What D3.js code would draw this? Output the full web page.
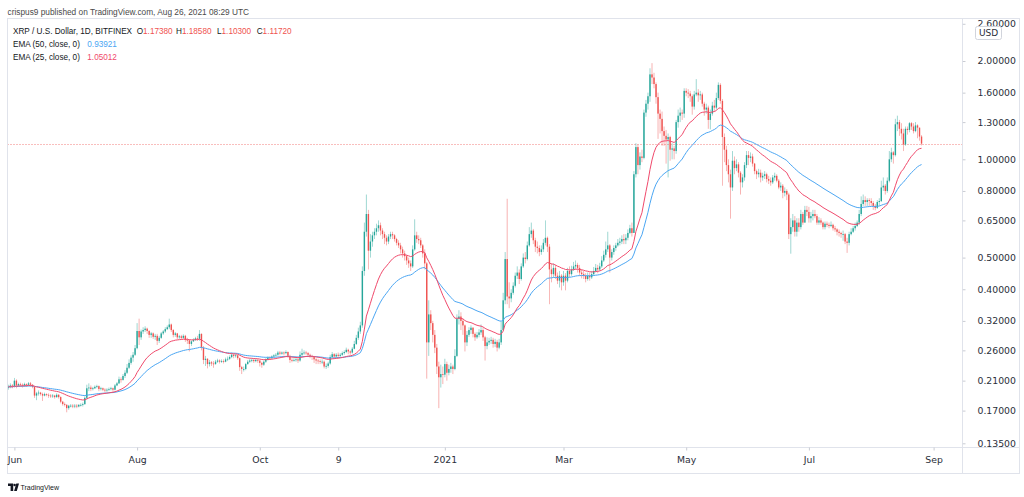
<!DOCTYPE html>
<html>
<head>
<meta charset="utf-8">
<script src="https://cdn.jsdelivr.net/npm/d3@7"></script>
<style>
  body { margin: 0; background: #fff; }
  svg { display: block; font-family: "Liberation Sans", Arial, sans-serif; }
</style>
</head>
<body>
<svg width="1024" height="497"></svg>
<script>
// daily XRP/USD candles (Bitfinex), one row per month; open = previous close
let monthStarts = ["2020-05-29", "2020-06-01", "2020-07-01", "2020-08-01", "2020-09-01", "2020-10-01",
  "2020-11-01", "2020-12-01", "2021-01-01", "2021-02-01", "2021-03-01", "2021-04-01", "2021-05-01",
  "2021-06-01", "2021-07-01", "2021-08-01"];
let firstOpen = 0.2005;

let closes = [
  [0.201, 0.203, 0.202],
  [0.210, 0.203, 0.205, 0.204, 0.203, 0.205, 0.204, 0.206, 0.204, 0.201, 0.189, 0.192, 0.193, 0.191, 0.189, 0.191, 0.190, 0.189, 0.188, 0.189, 0.187, 0.190, 0.187, 0.181, 0.178, 0.177, 0.173, 0.176, 0.176, 0.175],
  [0.176, 0.175, 0.177, 0.177, 0.178, 0.186, 0.199, 0.200, 0.198, 0.199, 0.201, 0.202, 0.198, 0.199, 0.197, 0.196, 0.197, 0.198, 0.199, 0.197, 0.203, 0.206, 0.212, 0.211, 0.217, 0.222, 0.230, 0.238, 0.247, 0.252, 0.264],
  [0.298, 0.285, 0.297, 0.300, 0.303, 0.298, 0.290, 0.293, 0.286, 0.288, 0.278, 0.284, 0.293, 0.297, 0.302, 0.306, 0.312, 0.300, 0.290, 0.293, 0.285, 0.287, 0.284, 0.288, 0.280, 0.279, 0.272, 0.277, 0.280, 0.283, 0.282],
  [0.292, 0.265, 0.243, 0.245, 0.236, 0.239, 0.237, 0.236, 0.240, 0.242, 0.240, 0.241, 0.240, 0.244, 0.245, 0.248, 0.252, 0.250, 0.251, 0.246, 0.231, 0.228, 0.228, 0.236, 0.240, 0.242, 0.243, 0.241, 0.243, 0.242],
  [0.238, 0.235, 0.240, 0.244, 0.247, 0.246, 0.249, 0.251, 0.252, 0.256, 0.254, 0.256, 0.255, 0.257, 0.250, 0.243, 0.242, 0.243, 0.244, 0.242, 0.252, 0.255, 0.256, 0.255, 0.252, 0.250, 0.248, 0.244, 0.242, 0.241, 0.240],
  [0.240, 0.232, 0.233, 0.237, 0.248, 0.253, 0.249, 0.252, 0.250, 0.252, 0.255, 0.257, 0.261, 0.258, 0.256, 0.263, 0.272, 0.284, 0.297, 0.310, 0.455, 0.600, 0.680, 0.525, 0.560, 0.585, 0.600, 0.615, 0.628, 0.605],
  [0.590, 0.575, 0.560, 0.580, 0.590, 0.585, 0.570, 0.555, 0.545, 0.530, 0.515, 0.505, 0.490, 0.480, 0.470, 0.530, 0.585, 0.570, 0.565, 0.545, 0.515, 0.480, 0.275, 0.335, 0.315, 0.290, 0.265, 0.232, 0.215, 0.220, 0.219],
  [0.236, 0.222, 0.228, 0.232, 0.228, 0.250, 0.325, 0.330, 0.320, 0.310, 0.275, 0.290, 0.300, 0.305, 0.292, 0.285, 0.290, 0.295, 0.300, 0.285, 0.268, 0.275, 0.278, 0.280, 0.272, 0.276, 0.265, 0.275, 0.300, 0.370, 0.495],
  [0.380, 0.375, 0.390, 0.410, 0.440, 0.450, 0.430, 0.470, 0.500, 0.495, 0.545, 0.590, 0.605, 0.565, 0.540, 0.535, 0.520, 0.530, 0.555, 0.575, 0.540, 0.460, 0.445, 0.465, 0.440, 0.425, 0.440, 0.420],
  [0.440, 0.425, 0.455, 0.445, 0.460, 0.470, 0.475, 0.465, 0.450, 0.445, 0.440, 0.430, 0.440, 0.435, 0.445, 0.455, 0.465, 0.460, 0.470, 0.490, 0.510, 0.530, 0.545, 0.500, 0.520, 0.535, 0.545, 0.555, 0.560, 0.570, 0.565],
  [0.575, 0.595, 0.615, 0.595, 0.900, 1.090, 0.960, 1.020, 1.010, 1.390, 1.480, 1.560, 1.820, 1.780, 1.700, 1.550, 1.380, 1.330, 1.220, 1.180, 1.150, 1.170, 1.070, 1.080, 1.060, 1.300, 1.360, 1.390, 1.380, 1.620],
  [1.600, 1.590, 1.560, 1.450, 1.580, 1.600, 1.570, 1.580, 1.480, 1.420, 1.440, 1.320, 1.380, 1.460, 1.440, 1.540, 1.690, 1.510, 1.170, 1.070, 0.960, 0.900, 0.820, 0.990, 0.940, 0.965, 0.910, 0.850, 0.880, 0.960, 1.030],
  [1.010, 1.020, 0.970, 0.920, 0.900, 0.910, 0.880, 0.890, 0.900, 0.870, 0.860, 0.850, 0.880, 0.890, 0.860, 0.820, 0.830, 0.790, 0.800, 0.780, 0.590, 0.620, 0.650, 0.600, 0.640, 0.620, 0.680, 0.640, 0.700, 0.690],
  [0.660, 0.670, 0.680, 0.670, 0.640, 0.650, 0.640, 0.620, 0.635, 0.630, 0.625, 0.630, 0.615, 0.610, 0.600, 0.595, 0.590, 0.590, 0.560, 0.555, 0.590, 0.600, 0.615, 0.625, 0.640, 0.680, 0.730, 0.750, 0.740, 0.750, 0.745],
  [0.735, 0.720, 0.710, 0.740, 0.745, 0.820, 0.830, 0.800, 0.860, 1.000, 1.050, 1.030, 1.280, 1.300, 1.240, 1.200, 1.110, 1.240, 1.230, 1.290, 1.260, 1.220, 1.270, 1.250, 1.174, 1.117]
];

let highs = [
  [0.204, 0.206, 0.205],
  [0.214, 0.212, 0.207, 0.207, 0.206, 0.207, 0.206, 0.208, 0.208, 0.205, 0.202, 0.194, 0.196, 0.194, 0.193, 0.193, 0.192, 0.192, 0.191, 0.191, 0.190, 0.192, 0.191, 0.188, 0.182, 0.180, 0.178, 0.177, 0.178, 0.178],
  [0.178, 0.178, 0.178, 0.179, 0.180, 0.188, 0.204, 0.206, 0.203, 0.201, 0.203, 0.204, 0.203, 0.201, 0.200, 0.199, 0.199, 0.200, 0.201, 0.200, 0.205, 0.208, 0.216, 0.215, 0.220, 0.226, 0.236, 0.244, 0.251, 0.257, 0.270],
  [0.315, 0.325, 0.301, 0.306, 0.308, 0.305, 0.300, 0.296, 0.295, 0.292, 0.292, 0.288, 0.296, 0.300, 0.306, 0.310, 0.325, 0.314, 0.302, 0.296, 0.294, 0.290, 0.290, 0.291, 0.290, 0.284, 0.281, 0.279, 0.283, 0.286, 0.288],
  [0.300, 0.293, 0.268, 0.250, 0.246, 0.243, 0.241, 0.241, 0.243, 0.245, 0.244, 0.244, 0.244, 0.247, 0.249, 0.251, 0.256, 0.254, 0.254, 0.252, 0.247, 0.233, 0.232, 0.238, 0.243, 0.245, 0.246, 0.245, 0.246, 0.245],
  [0.243, 0.240, 0.242, 0.246, 0.249, 0.249, 0.251, 0.253, 0.255, 0.259, 0.259, 0.258, 0.258, 0.260, 0.258, 0.252, 0.246, 0.246, 0.247, 0.246, 0.258, 0.263, 0.260, 0.259, 0.257, 0.254, 0.252, 0.250, 0.246, 0.245, 0.244],
  [0.244, 0.242, 0.237, 0.240, 0.252, 0.257, 0.255, 0.255, 0.256, 0.255, 0.258, 0.260, 0.265, 0.263, 0.260, 0.266, 0.278, 0.290, 0.305, 0.318, 0.470, 0.640, 0.780, 0.700, 0.590, 0.600, 0.615, 0.635, 0.650, 0.640],
  [0.615, 0.600, 0.585, 0.590, 0.600, 0.600, 0.590, 0.575, 0.565, 0.555, 0.540, 0.525, 0.510, 0.500, 0.490, 0.545, 0.655, 0.600, 0.585, 0.575, 0.550, 0.530, 0.485, 0.370, 0.345, 0.320, 0.300, 0.272, 0.240, 0.235, 0.232],
  [0.245, 0.240, 0.235, 0.238, 0.235, 0.262, 0.335, 0.345, 0.340, 0.325, 0.312, 0.298, 0.306, 0.310, 0.306, 0.295, 0.296, 0.302, 0.312, 0.305, 0.288, 0.285, 0.284, 0.286, 0.284, 0.282, 0.280, 0.282, 0.318, 0.390, 0.520],
  [0.757, 0.420, 0.400, 0.420, 0.450, 0.470, 0.460, 0.480, 0.515, 0.520, 0.560, 0.620, 0.640, 0.612, 0.575, 0.560, 0.545, 0.545, 0.570, 0.650, 0.580, 0.550, 0.480, 0.480, 0.475, 0.450, 0.455, 0.445],
  [0.455, 0.448, 0.465, 0.470, 0.472, 0.485, 0.490, 0.482, 0.475, 0.460, 0.455, 0.448, 0.450, 0.450, 0.455, 0.468, 0.478, 0.475, 0.482, 0.505, 0.525, 0.560, 0.600, 0.550, 0.530, 0.545, 0.555, 0.570, 0.575, 0.585, 0.590],
  [0.590, 0.610, 0.630, 0.640, 0.920, 1.120, 1.110, 1.050, 1.070, 1.420, 1.520, 1.600, 1.900, 1.970, 1.840, 1.720, 1.600, 1.420, 1.400, 1.260, 1.230, 1.200, 1.180, 1.120, 1.100, 1.320, 1.420, 1.440, 1.420, 1.650],
  [1.650, 1.640, 1.620, 1.580, 1.620, 1.760, 1.640, 1.620, 1.600, 1.500, 1.480, 1.460, 1.420, 1.500, 1.520, 1.600, 1.720, 1.710, 1.530, 1.200, 1.100, 1.000, 0.930, 1.060, 1.020, 1.000, 0.980, 0.920, 0.900, 0.980, 1.060],
  [1.060, 1.050, 1.040, 0.975, 0.930, 0.935, 0.930, 0.910, 0.920, 0.910, 0.890, 0.880, 0.895, 0.910, 0.900, 0.870, 0.850, 0.840, 0.820, 0.810, 0.790, 0.660, 0.680, 0.670, 0.660, 0.660, 0.700, 0.690, 0.720, 0.720],
  [0.715, 0.690, 0.700, 0.700, 0.680, 0.665, 0.660, 0.645, 0.645, 0.645, 0.640, 0.645, 0.635, 0.625, 0.615, 0.610, 0.600, 0.605, 0.595, 0.575, 0.600, 0.615, 0.625, 0.640, 0.650, 0.700, 0.770, 0.780, 0.770, 0.760, 0.760],
  [0.760, 0.745, 0.730, 0.750, 0.760, 0.860, 0.880, 0.840, 0.880, 1.060, 1.085, 1.060, 1.330, 1.360, 1.320, 1.290, 1.240, 1.260, 1.260, 1.300, 1.300, 1.290, 1.300, 1.280, 1.250, 1.186]
];

let lows = [
  [0.197, 0.199, 0.199],
  [0.200, 0.199, 0.201, 0.201, 0.200, 0.201, 0.201, 0.202, 0.201, 0.199, 0.186, 0.183, 0.189, 0.189, 0.182, 0.188, 0.188, 0.186, 0.186, 0.186, 0.185, 0.186, 0.185, 0.179, 0.176, 0.175, 0.168, 0.171, 0.174, 0.173],
  [0.173, 0.173, 0.174, 0.175, 0.175, 0.177, 0.184, 0.195, 0.195, 0.196, 0.198, 0.199, 0.195, 0.196, 0.195, 0.193, 0.194, 0.195, 0.196, 0.194, 0.196, 0.202, 0.205, 0.207, 0.210, 0.214, 0.220, 0.228, 0.235, 0.240, 0.250],
  [0.262, 0.270, 0.280, 0.292, 0.296, 0.292, 0.284, 0.284, 0.282, 0.280, 0.270, 0.274, 0.282, 0.290, 0.294, 0.300, 0.302, 0.296, 0.285, 0.286, 0.281, 0.282, 0.280, 0.282, 0.276, 0.272, 0.258, 0.268, 0.276, 0.278, 0.278],
  [0.278, 0.260, 0.236, 0.233, 0.229, 0.232, 0.233, 0.230, 0.235, 0.238, 0.237, 0.238, 0.237, 0.239, 0.241, 0.243, 0.246, 0.246, 0.247, 0.243, 0.225, 0.220, 0.224, 0.226, 0.235, 0.238, 0.239, 0.238, 0.239, 0.238],
  [0.232, 0.230, 0.233, 0.238, 0.242, 0.243, 0.244, 0.247, 0.249, 0.250, 0.251, 0.252, 0.251, 0.253, 0.247, 0.238, 0.239, 0.240, 0.240, 0.238, 0.240, 0.249, 0.252, 0.252, 0.249, 0.246, 0.243, 0.238, 0.236, 0.236, 0.236],
  [0.236, 0.229, 0.228, 0.230, 0.235, 0.246, 0.245, 0.247, 0.246, 0.247, 0.250, 0.252, 0.255, 0.253, 0.252, 0.254, 0.262, 0.270, 0.280, 0.292, 0.305, 0.440, 0.580, 0.460, 0.500, 0.540, 0.570, 0.585, 0.600, 0.585],
  [0.570, 0.550, 0.545, 0.550, 0.570, 0.570, 0.560, 0.545, 0.535, 0.515, 0.500, 0.490, 0.475, 0.465, 0.455, 0.465, 0.525, 0.555, 0.550, 0.535, 0.500, 0.460, 0.213, 0.250, 0.300, 0.275, 0.255, 0.220, 0.173, 0.200, 0.205],
  [0.215, 0.210, 0.218, 0.222, 0.220, 0.226, 0.248, 0.312, 0.300, 0.290, 0.258, 0.268, 0.286, 0.292, 0.285, 0.278, 0.282, 0.285, 0.290, 0.278, 0.242, 0.262, 0.270, 0.272, 0.265, 0.266, 0.258, 0.262, 0.270, 0.300, 0.360],
  [0.360, 0.350, 0.365, 0.385, 0.405, 0.430, 0.415, 0.425, 0.465, 0.480, 0.490, 0.540, 0.575, 0.550, 0.520, 0.515, 0.505, 0.510, 0.520, 0.545, 0.520, 0.360, 0.420, 0.435, 0.430, 0.415, 0.405, 0.397],
  [0.410, 0.397, 0.420, 0.435, 0.440, 0.455, 0.460, 0.450, 0.440, 0.432, 0.430, 0.420, 0.425, 0.425, 0.430, 0.440, 0.450, 0.448, 0.455, 0.465, 0.485, 0.500, 0.520, 0.450, 0.490, 0.510, 0.525, 0.540, 0.545, 0.550, 0.550],
  [0.550, 0.565, 0.590, 0.580, 0.600, 0.880, 0.900, 0.930, 0.980, 1.000, 1.350, 1.420, 1.500, 1.700, 1.650, 1.480, 1.155, 1.200, 1.100, 1.100, 0.970, 0.880, 0.990, 1.000, 1.000, 1.040, 1.250, 1.300, 1.320, 1.340],
  [1.560, 1.540, 1.500, 1.370, 1.420, 1.560, 1.500, 1.520, 1.450, 1.360, 1.380, 1.240, 1.235, 1.360, 1.400, 1.420, 1.520, 1.480, 0.830, 0.980, 0.920, 0.850, 0.658, 0.800, 0.900, 0.920, 0.880, 0.780, 0.820, 0.860, 0.940],
  [0.960, 0.980, 0.950, 0.900, 0.870, 0.880, 0.850, 0.860, 0.870, 0.850, 0.840, 0.830, 0.840, 0.860, 0.850, 0.810, 0.800, 0.760, 0.770, 0.750, 0.570, 0.514, 0.600, 0.580, 0.580, 0.600, 0.610, 0.630, 0.640, 0.670],
  [0.640, 0.640, 0.650, 0.660, 0.630, 0.630, 0.630, 0.610, 0.610, 0.620, 0.615, 0.620, 0.605, 0.600, 0.585, 0.580, 0.575, 0.563, 0.550, 0.517, 0.545, 0.585, 0.595, 0.605, 0.620, 0.630, 0.670, 0.720, 0.720, 0.720, 0.720],
  [0.720, 0.700, 0.698, 0.705, 0.720, 0.740, 0.800, 0.780, 0.790, 0.850, 0.980, 0.970, 1.020, 1.220, 1.180, 1.150, 1.060, 1.100, 1.190, 1.210, 1.230, 1.200, 1.210, 1.160, 1.140, 1.103]
];

let priceTicks = [0.135, 0.17, 0.21, 0.26, 0.32, 0.40, 0.50, 0.65, 0.80, 1.00, 1.30, 1.60, 2.00, 2.60];
let timeTickDates = ["2020-06-01", "2020-08-01", "2020-10-01", "2020-11-09", "2021-01-01", "2021-03-01", "2021-05-01", "2021-07-01", "2021-09-01"];
let timeTickLabels = ["Jun", "Aug", "Oct", "9", "2021", "Mar", "May", "Jul", "Sep"];
let ohlcLabels = ["O", "H", "L", "C"];
let ohlcValues = ["1.17380", "1.18580", "1.10300", "1.11720"];
let emaLengths = [50, 25];
let emaValues = ["0.93921", "1.05012"];
let lastClose = 1.1172;

let upColor = "#26a69a";
let downColor = "#ef5350";
let emaColors = {50: "#4ba6f3", 25: "#f04a6c"};
let textColor = "#131722";

let svg = d3.select("svg");
let parseDay = d3.utcParse("%Y-%m-%d");

let paneLeft = 7.5, paneRight = 962.5, paneTop = 18.5, paneBottom = 447.5;

// build candle rows
let candles = [];
let prevClose = firstOpen;
monthStarts.forEach((start, m) => {
  let d0 = parseDay(start);
  closes[m].forEach((c, i) => {
    candles.push({
      date: d3.utcDay.offset(d0, i),
      open: prevClose,
      high: highs[m][i],
      low: lows[m][i],
      close: c
    });
    prevClose = c;
  });
});

let xScale = d3.scaleUtc()
  .domain([parseDay("2020-06-01"), parseDay("2021-09-01")])
  .range([14.4, 933.6]);

let yScale = d3.scaleLog()
  .domain([0.135, 2.0])
  .range([443.3, 61]);

let calcEma = (n) => {
  let k = 2 / (n + 1);
  let v;
  return candles.map(c => {
    v = (v === undefined) ? c.close : c.close * k + v * (1 - k);
    return {date: c.date, value: v};
  });
};

// frame
svg.append("rect")
  .attr("x", paneLeft).attr("y", paneTop)
  .attr("width", 1019.5 - paneLeft).attr("height", 473.5 - paneTop)
  .attr("fill", "none").attr("stroke", "#e0e3eb");
svg.append("line")
  .attr("x1", paneLeft).attr("x2", 1019.5).attr("y1", paneBottom).attr("y2", paneBottom)
  .attr("stroke", "#e0e3eb");
svg.append("line")
  .attr("x1", paneRight).attr("x2", paneRight).attr("y1", paneTop).attr("y2", 473.5)
  .attr("stroke", "#e0e3eb");

let defs = svg.append("defs");
defs.append("clipPath").attr("id", "pane")
  .append("rect").attr("x", paneLeft + 0.5).attr("y", paneTop + 0.5)
  .attr("width", paneRight - paneLeft - 1).attr("height", paneBottom - paneTop - 1);
defs.append("clipPath").attr("id", "scale")
  .append("rect").attr("x", paneRight).attr("y", 19.5).attr("width", 60).attr("height", 430);

let plot = svg.append("g").attr("clip-path", "url(#pane)");

// last price line
let lastY = Math.round(yScale(lastClose)) + 0.5;
plot.append("line")
  .attr("x1", paneLeft).attr("x2", paneRight)
  .attr("y1", lastY).attr("y2", lastY)
  .attr("stroke", downColor).attr("stroke-width", 1)
  .attr("stroke-dasharray", "1,2").attr("opacity", 0.75);

// candles
let candleG = plot.append("g");
candleG.selectAll("line.wick")
  .data(candles)
  .enter()
  .append("line")
  .attr("class", "wick")
  .attr("x1", d => xScale(d.date))
  .attr("x2", d => xScale(d.date))
  .attr("y1", d => yScale(Math.max(d.high, d.open, d.close)))
  .attr("y2", d => yScale(Math.min(d.low, d.open, d.close)))
  .attr("stroke", d => d.close >= d.open ? upColor : downColor)
  .attr("stroke-width", 0.8)
  .attr("opacity", 0.55);

candleG.selectAll("rect.body")
  .data(candles)
  .enter()
  .append("rect")
  .attr("class", "body")
  .attr("x", d => xScale(d.date) - 0.7)
  .attr("width", 1.4)
  .attr("y", d => yScale(Math.max(d.open, d.close)))
  .attr("height", d => Math.max(0.8, Math.abs(yScale(d.open) - yScale(d.close))))
  .attr("fill", d => d.close >= d.open ? upColor : downColor);

// EMA lines
let line = d3.line()
  .x(d => xScale(d.date))
  .y(d => yScale(d.value));

emaLengths.forEach(n => {
  plot.append("path")
    .datum(calcEma(n))
    .attr("d", line)
    .attr("fill", "none")
    .attr("stroke", emaColors[n])
    .attr("stroke-width", 1);
});

// time axis
let xAxis = d3.axisBottom(xScale)
  .tickValues(timeTickDates.map(parseDay))
  .tickFormat((d, i) => timeTickLabels[i])
  .tickSize(3)
  .tickPadding(6);

let gx = svg.append("g")
  .attr("transform", "translate(0," + paneBottom + ")")
  .call(xAxis);
gx.select(".domain").remove();
gx.selectAll(".tick line").attr("stroke", "#c9ccd3");
gx.selectAll(".tick text")
  .attr("fill", "#2a2e39")
  .attr("font-family", "DejaVu Sans, sans-serif")
  .attr("font-size", 9.3);

// price axis
let yAxis = d3.axisRight(yScale)
  .tickValues(priceTicks)
  .tickFormat(d3.format(".5f"))
  .tickSize(3)
  .tickPadding(12);

let gy = svg.append("g")
  .attr("clip-path", "url(#scale)")
  .append("g")
  .attr("transform", "translate(" + paneRight + ",0)")
  .call(yAxis);
gy.select(".domain").remove();
gy.selectAll(".tick line").attr("stroke", "#c9ccd3");
gy.selectAll(".tick text")
  .attr("fill", "#2a2e39")
  .attr("font-family", "DejaVu Sans, sans-serif")
  .attr("font-size", 9.3);

// currency tag
svg.append("rect")
  .attr("x", 975.5).attr("y", 26.5).attr("width", 26).attr("height", 13).attr("rx", 2)
  .attr("fill", "#fff").attr("stroke", "#d1d4dc");
svg.append("text")
  .attr("x", 988.5).attr("y", 36.3)
  .attr("text-anchor", "middle")
  .attr("font-family", "DejaVu Sans, sans-serif")
  .attr("font-size", 9)
  .attr("fill", "#2a2e39")
  .text("USD");

// header
svg.append("text")
  .attr("x", 7.5).attr("y", 14.5)
  .attr("font-size", 8.3)
  .attr("fill", "#4a4a4a")
  .text("crispus9 published on TradingView.com, Aug 26, 2021 08:29 UTC");

// legend
let legend = svg.append("g").attr("font-size", 8.2);
legend.append("text")
  .attr("x", 13).attr("y", 33.8)
  .attr("fill", textColor)
  .text("XRP / U.S. Dollar, 1D, BITFINEX");

let ohlcX = [136.7, 176, 217, 256.7];
ohlcLabels.forEach((lab, i) => {
  let t = legend.append("text").attr("x", ohlcX[i]).attr("y", 33.8);
  t.append("tspan").attr("fill", textColor).text(lab);
  t.append("tspan").attr("fill", downColor).text(ohlcValues[i]);
});

emaLengths.forEach((n, i) => {
  let yy = 46.8 + i * 13;
  legend.append("text")
    .attr("x", 13).attr("y", yy)
    .attr("fill", textColor)
    .text("EMA (" + n + ", close, 0)");
  legend.append("text")
    .attr("x", 87.3).attr("y", yy)
    .attr("fill", emaColors[n])
    .text(emaValues[i]);
});

// TradingView mark
let logo = svg.append("g").attr("fill", "#131722");
logo.append("path").attr("d", "M8,483.5 H13.2 V491 H10.6 V486 H8 Z");
logo.append("circle").attr("cx", 14.6).attr("cy", 485).attr("r", 1.3);
logo.append("path").attr("d", "M16.3,483.5 H19 L16.8,491 H14.1 Z");
svg.append("text")
  .attr("x", 20.5).attr("y", 490)
  .attr("font-size", 7)
  .attr("fill", "#131722")
  .text("TradingView");
</script>
</body>
</html>
